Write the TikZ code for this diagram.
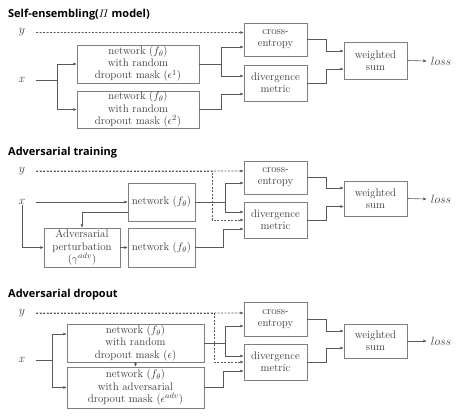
\documentclass[tikz,border=0pt]{standalone}
\usepackage{amsmath}
\usepackage{fontspec}
\newfontfamily\headfont{Open Sans}
\usetikzlibrary{positioning,arrows.meta,calc}
\definecolor{linegray}{HTML}{595959}
\definecolor{boxgray}{HTML}{7F7F7F}
\definecolor{textgray}{HTML}{3A3A3A}
\tikzset{
blocknode/.style={rectangle, draw=boxgray, line width=0.7pt, inner sep=0pt, text=textgray,
                  font=\fontsize{11}{12.3}\selectfont, align=center},
varnode/.style={minimum width=28bp, inner sep=0pt, text=textgray, font=\fontsize{12}{14}\selectfont},
titlenode/.style={anchor=west, inner sep=0pt, font=\headfont\bfseries\fontsize{11}{13}\selectfont},
>={Latex[width=1.1mm,length=1.2mm]},
link/.style={->, draw=linegray, line width=0.6pt},
target/.style={link, dash pattern=on 2pt off 1.5pt}
}
\begin{document}
\begin{tikzpicture}[x=1bp, y=-1bp]
\useasboundingbox (0,0) rectangle (456,415);

%Self-ensembling nodes
\node[titlenode] (title1) at(8,15) {Self-ensembling($\varPi$ model)};
\node[varnode] (y1) at(22,32.5) {$y$};
\node[varnode] (x1) at(22,80) {$x$};
\node[blocknode, minimum width=122bp, minimum height=38bp] (net1a) at(138,64) {network ($f_\theta$)\\ with random\\ dropout mask ($\epsilon^1$)};
\node[blocknode, minimum width=122bp, minimum height=37bp] (net1b) at(138,109.5) {network ($f_\theta$)\\ with random\\ dropout mask ($\epsilon^2$)};
\node[blocknode, minimum width=63bp, minimum height=33bp] (ce1) at(275.5,39.5) {cross-\\ entropy};
\node[blocknode, minimum width=63bp, minimum height=36bp] (dv1) at(275.5,83) {divergence\\ metric};
\node[blocknode, minimum width=63bp, minimum height=37bp] (ws1) at(375.5,60.5) {weighted\\ sum};
\node[varnode] (loss1) at(441,61) {$loss$};

\draw[target] (y1.east) -- ([yshift=7bp]ce1.west);
\draw[link, -] (x1.east) -- ++(21,0) coordinate (j1);
\draw[link] (j1) |- (net1a.west);
\draw[link] (j1) |- (net1b.west);
\draw[link] (net1a.east) -- ++(22,0) |- ([yshift=-7.5bp]ce1.west);
\draw[link] (net1a.east) -- ++(22,0) |- ([yshift=7bp]dv1.west);
\draw[link] (net1b.east) -- ++(22,0) |- ([yshift=-11bp]dv1.west);
\draw[link] (ce1.east) -- ++(19,0) |- ([yshift=9.5bp]ws1.west);
\draw[link] (dv1.east) -- ++(19,0) |- ([yshift=-8.5bp]ws1.west);
\draw[link] (ws1.east) -- (loss1.west);

%Adversarial training nodes
\node[titlenode] (title2) at(8,153) {Adversarial training};
\node[varnode] (y2) at(22,171) {$y$};
\node[varnode] (x2) at(22,202) {$x$};
\node[blocknode, minimum width=67bp, minimum height=38bp] (nt2) at(161.5,202) {network ($f_\theta$)};
\node[blocknode, minimum width=76bp, minimum height=39bp] (adv2) at(82,247.5) {Adversarial\\ perturbation\\ ($\gamma^{adv}$)};
\node[blocknode, minimum width=67bp, minimum height=39bp] (nb2) at(161.5,247.5) {network ($f_\theta$)};
\node[blocknode, minimum width=63bp, minimum height=33bp] (ce2) at(275.5,177.5) {cross-\\ entropy};
\node[blocknode, minimum width=63bp, minimum height=36bp] (dv2) at(275.5,220) {divergence\\ metric};
\node[blocknode, minimum width=63bp, minimum height=35bp] (ws2) at(375.5,198.5) {weighted\\ sum};
\node[varnode] (loss2) at(441,199) {$loss$};

\draw[target] (y2.east) -- ([yshift=6.5bp]ce2.west);
\draw[target] (y2.east) -- ++(176,0) |- (dv2.west);
\draw[link] (x2.east) -- (nt2.west);
\draw[link] (x2.south) |- (adv2.west);
\draw[link] ([yshift=-10bp]nt2.west) -| (adv2.north);
\draw[link] (adv2.east) -- (nb2.west);
\draw[link] (nt2.east) -- ++(30,0) |- ([yshift=-5.5bp]ce2.west);
\draw[link] (nt2.east) -- ++(30,0) |- ([yshift=8bp]dv2.west);
\draw[link] (nb2.east) -- ++(28,0) |- ([yshift=-9bp]dv2.west);
\draw[link] (ce2.east) -- ++(19,0) |- ([yshift=10.5bp]ws2.west);
\draw[link] (dv2.east) -- ++(19,0) |- ([yshift=-8bp]ws2.west);
\draw[link] (ws2.east) -- (loss2.west);

%Adversarial dropout nodes
\node[titlenode] (title3) at(8,295) {Adversarial dropout};
\node[varnode] (y3) at(22,313) {$y$};
\node[varnode] (x3) at(22,360) {$x$};
\node[blocknode, minimum width=137bp, minimum height=38bp] (na3) at(135.5,343) {network ($f_\theta$)\\ with random\\ dropout mask ($\epsilon$)};
\node[blocknode, minimum width=137bp, minimum height=41bp] (nd3) at(135.5,387.5) {network ($f_\theta$)\\ with adversarial\\ dropout mask ($\epsilon^{adv}$)};
\node[blocknode, minimum width=63bp, minimum height=34bp] (ce3) at(275.5,319) {cross-\\ entropy};
\node[blocknode, minimum width=63bp, minimum height=36bp] (dv3) at(275.5,362) {divergence\\ metric};
\node[blocknode, minimum width=63bp, minimum height=34bp] (ws3) at(375.5,341) {weighted\\ sum};
\node[varnode] (loss3) at(441,341) {$loss$};

\draw[target] (y3.east) -- ([yshift=6bp]ce3.west);
\draw[target] (y3.east) -- ++(178,0) |- (dv3.west);
\draw[link, -] (x3.east) -- ++(16,0) coordinate (j3);
\draw[link] (j3) |- ([yshift=9bp]na3.west);
\draw[link] (j3) |- (nd3.west);
\draw[link] (na3.south) -- (nd3.north);
\draw[link] (na3.east) -- ++(21,0) |- ([yshift=-7bp]ce3.west);
\draw[link] (na3.east) -- ++(21,0) |- ([yshift=6bp]dv3.west);
\draw[link] (nd3.east) -- ++(19,0) |- ([yshift=-9bp]dv3.west);
\draw[link] (ce3.east) -- ++(19,0) |- ([yshift=10bp]ws3.west);
\draw[link] (dv3.east) -- ++(19,0) |- ([yshift=-7bp]ws3.west);
\draw[link] (ws3.east) -- (loss3.west);
\end{tikzpicture}
\end{document}
